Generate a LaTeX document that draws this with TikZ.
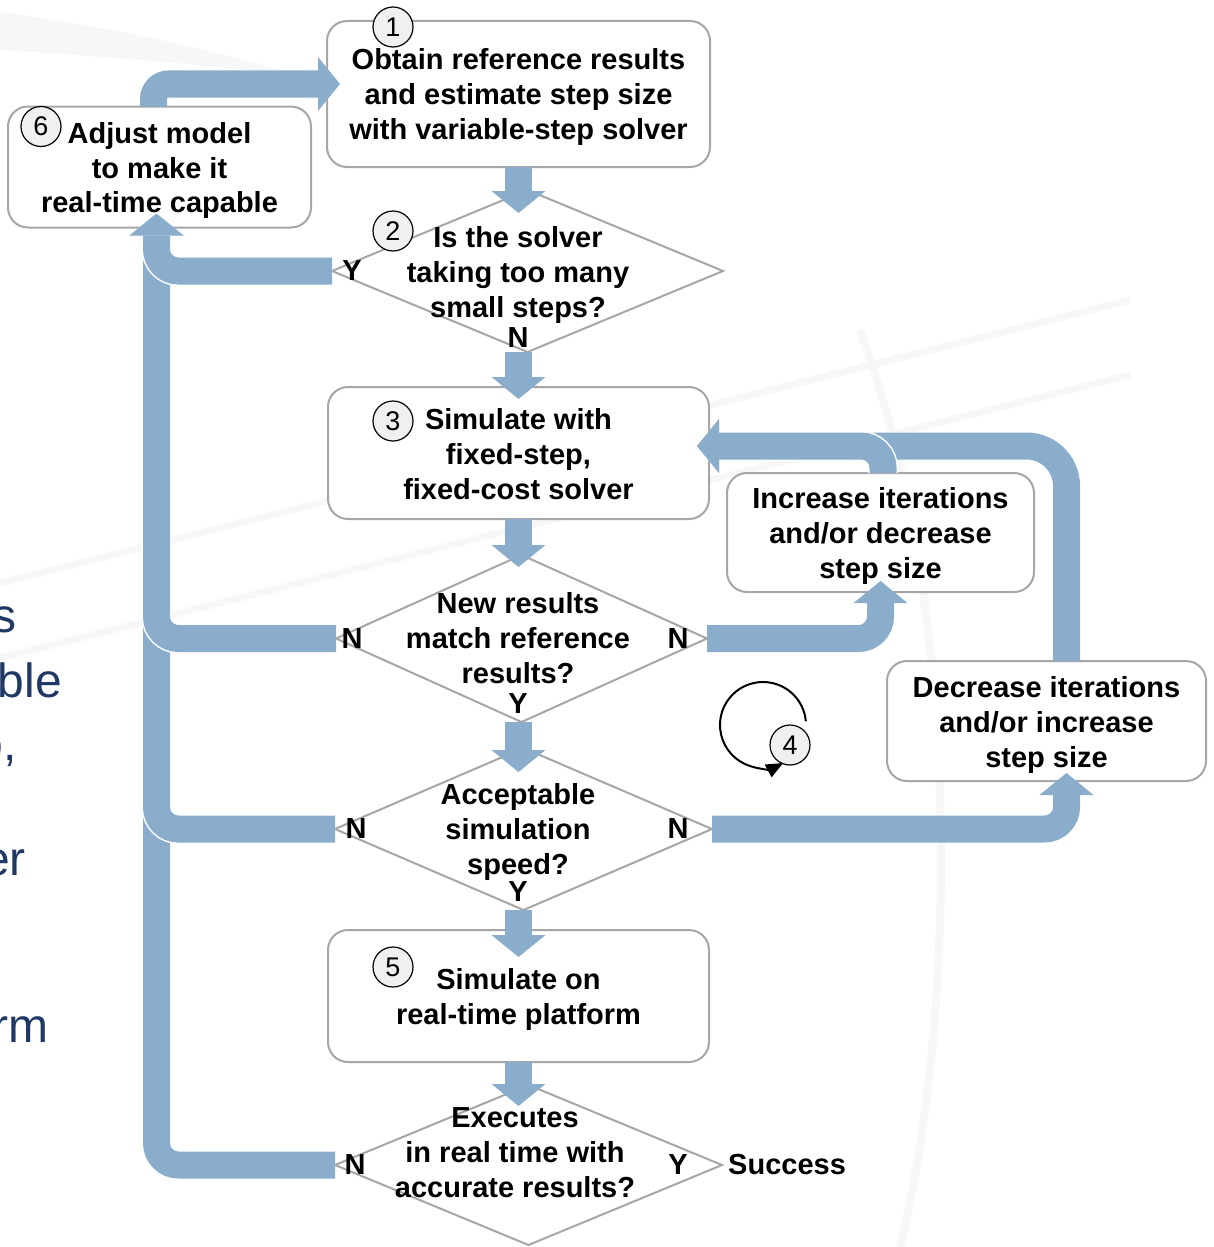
\documentclass[tikz,border=0pt]{standalone}
\usepackage{fontspec}
\setmainfont{Liberation Sans}
\usetikzlibrary{arrows.meta}
\usetikzlibrary{positioning}
\usetikzlibrary{shapes.geometric, calc}

\definecolor{flowblue}{RGB}{138,173,204}
\definecolor{boxgray}{RGB}{166,166,166}
\definecolor{numgray}{RGB}{240,240,240}
\definecolor{slidenavy}{RGB}{31,56,100}
\definecolor{swoosh}{RGB}{247,247,247}

\newcommand{\flowfont}{\fontsize{29}{35}\selectfont\bfseries}

\begin{document}
\begin{tikzpicture}
    [x=1pt, y=-1pt,
stepbox/.style={rectangle, rounded corners=20pt, draw=boxgray, line width=2pt, fill=white, inner sep=0pt, outer sep=0pt},
decision/.style={diamond, draw=boxgray, line width=2pt, fill=white, inner sep=0pt, outer sep=0pt},
steptext/.style={align=center, font=\flowfont, inner sep=0pt, yshift=-3.5pt},
yn/.style={font=\flowfont, inner sep=0pt},
slidetext/.style={font=\fontsize{48}{48}\selectfont, text=slidenavy, inner sep=0pt, anchor=base east},
numcircle/.style={circle, draw=black, line width=1.2pt, fill=numgray, minimum size=40pt, inner sep=0pt, font=\fontsize{27}{27}\selectfont},
flowbar/.style={draw=flowblue, line width=27pt, rounded corners=22pt},
flow/.style={flowbar, -{Triangle[width=54pt,length=22pt,line width=0pt]}},
whiteedge/.style={preaction={draw=white, line width=30pt}}
]

\useasboundingbox (0,0) rectangle (1213,1247);

% faint slide background
\fill[swoosh] (0,12) .. controls (120,28) and (220,52) .. (300,76) .. controls (200,64) and (100,56) .. (0,50) -- cycle;
\draw[swoosh, line width=7pt] (0,583) -- (1130,300);
\draw[swoosh, line width=7pt] (0,658) -- (1130,375);
\draw[swoosh, line width=8pt] (860,330) .. controls (960,600) and (960,1000) .. (900,1247);

\node[slidetext] (frag1) at (17,632) {s};
\node[slidetext] (frag2) at (62,697) {ble};
\node[slidetext] (frag3) at (17,760) {o,};
\node[slidetext] (frag4) at (26,875) {er};
\node[slidetext] (frag5) at (49,1042) {rm};

% shapes
\node[stepbox, minimum width=383pt, minimum height=146pt] (obtain) at (518.5,94) {};
\node[decision, minimum width=391pt, minimum height=162pt] (solver) [below=23pt of obtain, xshift=9pt] {};
\node[stepbox, minimum width=381pt, minimum height=132pt] (fixed) [below=35pt of solver, xshift=-9pt] {};
\node[decision, minimum width=371pt, minimum height=167pt] (match) [below=36pt of fixed, xshift=3pt] {};
\node[decision, minimum width=377pt, minimum height=162pt] (speed) [below=26pt of match, xshift=2pt] {};
\node[stepbox, minimum width=381pt, minimum height=132pt] (platform) [below=20pt of speed, xshift=-5pt] {};
\node[decision, minimum width=387pt, minimum height=160pt] (realtime) [below=23pt of platform, xshift=10pt] {};

\node[stepbox, minimum width=303pt, minimum height=121pt] (adjust) [left=16pt of obtain, yshift=-73pt] {};
\node[stepbox, minimum width=307pt, minimum height=119pt] (increase) [right=18pt of fixed, yshift=-79.5pt] {};
\node[stepbox, minimum width=319pt, minimum height=120pt] (decrease) [below=69pt of increase, xshift=166pt] {};

\coordinate (trunk) at ([xshift=-3pt]adjust.south);
\coordinate (back) at ([xshift=-12pt,yshift=7pt]fixed.east);

% main column
\draw[flow] (obtain.south) -- ++(0,46);
\draw[flow] (fixed.north |- solver.south) -- ([yshift=-12pt]fixed.north);
\draw[flow] (fixed.south) -- ++(0,48);
\draw[flow] (fixed.south |- match.south) -- ++(0,50);
\draw[flow] (fixed.south |- speed.south) -- ([yshift=-27pt]platform.north);
\draw[flow] (platform.south) -- ++(0,44);

% back to the model
\draw[flow] (realtime.west) -| ([yshift=14pt]trunk);
\draw[flowbar, whiteedge] (speed.west) -| (trunk |- match.south);
\draw[flowbar, whiteedge] (match.west) -| (trunk |- fixed.south);
\draw[flow, whiteedge] (solver.west) -| ([yshift=14pt]trunk);
\draw[flow, rounded corners=15pt] ([xshift=-6pt]adjust.north) |- ([xshift=13pt,yshift=10pt]obtain.west);

% tuning loop
\draw[flow] (match.east) -| ([yshift=11pt]increase.south);
\draw[flow] (speed.east) -| ([xshift=20pt,yshift=8pt]decrease.south);
\draw[flow, rounded corners=40pt] ([xshift=20pt]decrease.north) |- (back);
\draw[flow, whiteedge] ([xshift=2.5pt]increase.north) |- (back);

\coordinate (loopc) at (763,725);
\draw[line width=2pt, -{Triangle[width=14pt,length=17pt]}] (loopc) ++(-5:43) arc[start angle=-5, end angle=-298, radius=43];

% texts
\node[steptext] (obtaintxt) at (obtain) {Obtain reference results\\and estimate step size\\with variable-step solver};
\node[steptext] (adjusttxt) at (adjust) {Adjust model\\to make it\\real-time capable};
\node[steptext] (solvertxt) at ([xshift=-9.5pt]solver.center) {Is the solver\\taking too many\\small steps?};
\node[steptext] (fixedtxt) at ([yshift=2pt]fixed.center) {Simulate with\\fixed-step,\\fixed-cost solver};
\node[steptext] (matchtxt) at ([xshift=-3.5pt,yshift=3.5pt]match.center) {New results\\match reference\\results?};
\node[steptext] (speedtxt) at ([xshift=-5.5pt,yshift=1pt]speed.center) {Acceptable\\simulation\\speed?};
\node[steptext] (platformtxt) at (platform) {Simulate on\\real-time platform};
\node[steptext] (realtimetxt) at ([xshift=-13.5pt,yshift=16pt]realtime.center) {Executes\\in real time with\\accurate results?};
\node[steptext] (increasetxt) at (increase) {Increase iterations\\and/or decrease\\step size};
\node[steptext] (decreasetxt) at (decrease) {Decrease iterations\\and/or increase\\step size};

\node[yn] (solverY) at ([xshift=20pt]solver.west) {Y};
\node[yn] (solverN) at ([xshift=-9.5pt,yshift=14pt]solver.south) {N};
\node[yn] (matchNl) at ([xshift=16pt]match.west) {N};
\node[yn] (matchNr) at ([xshift=-29pt]match.east) {N};
\node[yn] (matchY) at ([xshift=-3.5pt,yshift=18pt]match.south) {Y};
\node[yn] (speedNl) at ([xshift=21pt]speed.west) {N};
\node[yn] (speedNr) at ([xshift=-34pt]speed.east) {N};
\node[yn] (speedY) at ([xshift=-5.5pt,yshift=18pt]speed.south) {Y};
\node[yn] (realtimeN) at ([xshift=20pt]realtime.west) {N};
\node[yn] (realtimeY) at ([xshift=-44pt]realtime.east) {Y};
\node[yn] (success) [right=6pt of realtime.east] {Success};

% step numbers
\node[numcircle] (n1) at ([xshift=-125.5pt,yshift=-6pt]obtain.north) {1};
\node[numcircle] (n2) at ([xshift=-134.5pt,yshift=40pt]solver.center) {2};
\node[numcircle] (n3) at ([xshift=65pt,yshift=-34pt]fixed.north west) {3};
\node[numcircle] (n4) at ([xshift=27pt,yshift=-20pt]loopc) {4};
\node[numcircle] (n5) at ([xshift=65pt,yshift=-37pt]platform.north west) {5};
\node[numcircle] (n6) at ([xshift=33pt,yshift=-20pt]adjust.north west) {6};

\end{tikzpicture}
\end{document}
